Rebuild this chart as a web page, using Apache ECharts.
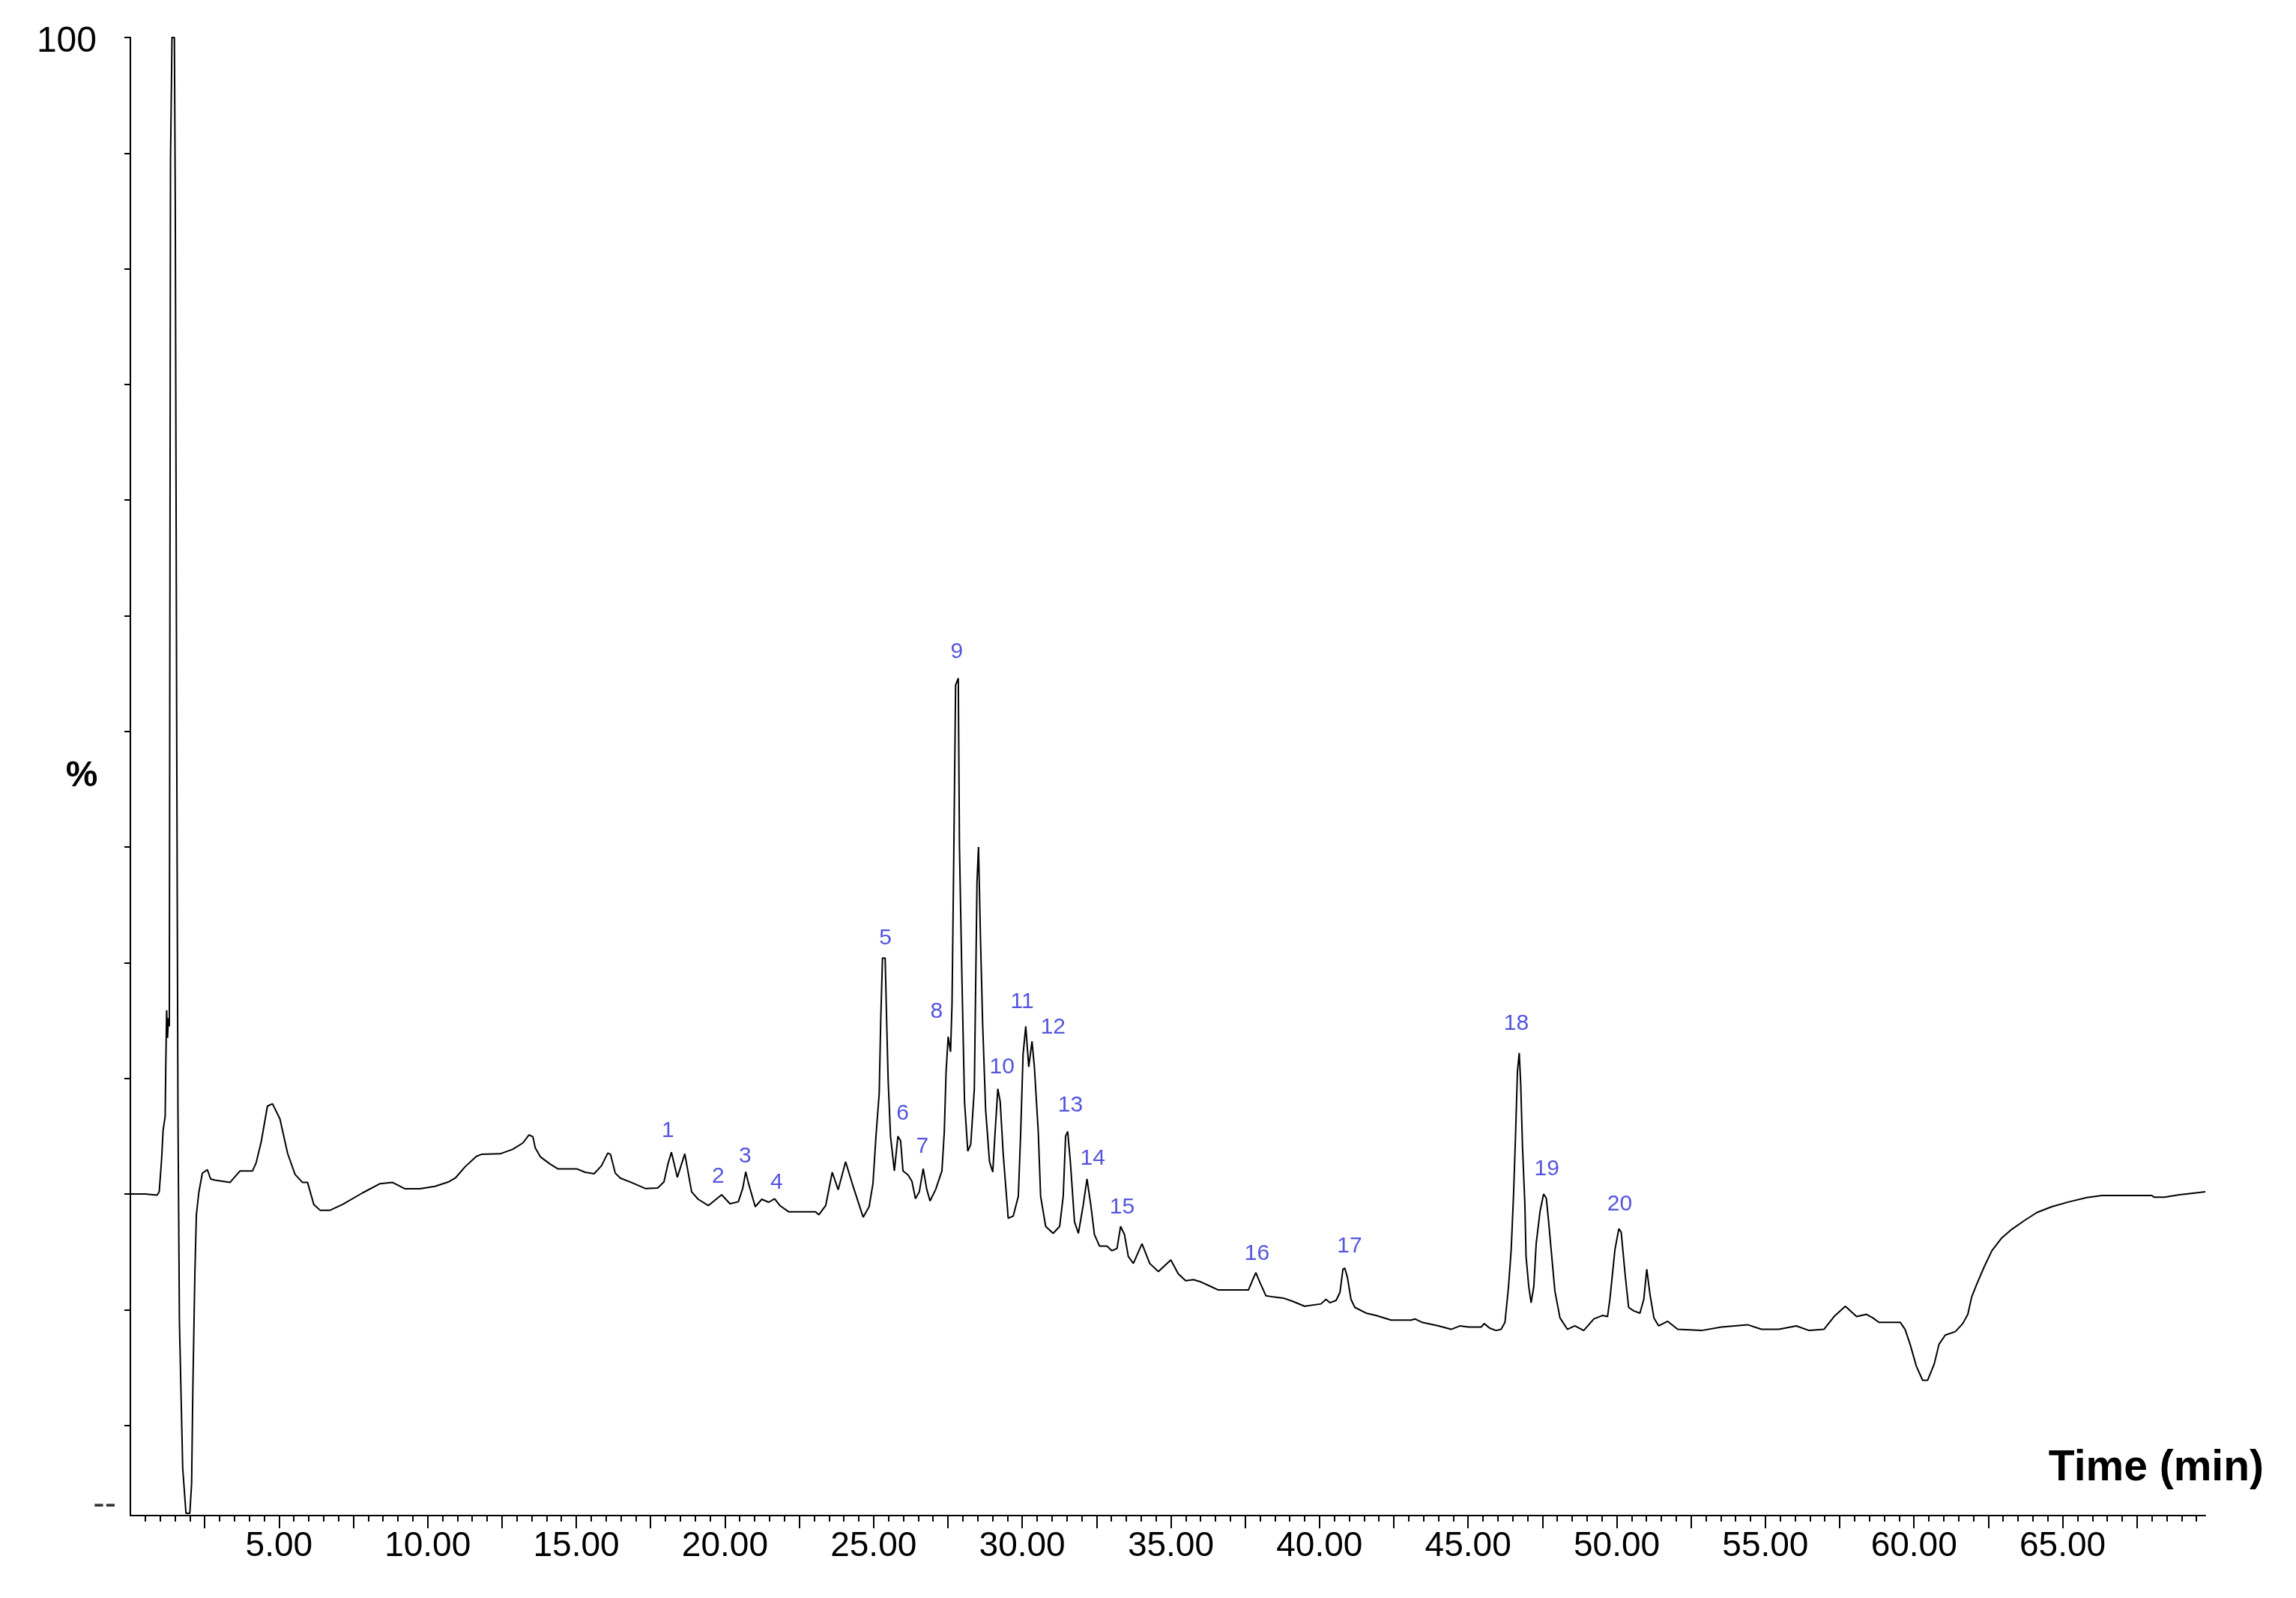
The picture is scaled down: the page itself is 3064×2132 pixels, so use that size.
<!DOCTYPE html>
<html>
<head>
<meta charset="utf-8">
<script src="https://cdn.jsdelivr.net/npm/echarts@6/dist/echarts.min.js"></script>
<style>
html,body{margin:0;padding:0;background:#fff;}
#chart{width:3064px;height:2132px;}
</style>
</head>
<body>
<div id="chart"></div>
<script>
// Retention time (min) of each point
const times = [
0.00,0.50,0.90,0.97,1.05,1.10,1.17,1.19,1.22,1.25,1.28,1.31,1.35,1.40,1.48,1.51,1.56,1.60,1.65,1.76,
1.87,2.00,2.06,2.10,2.17,2.22,2.30,2.42,2.59,2.70,2.85,3.35,3.69,4.11,4.23,4.40,4.61,4.78,5.03,5.29,
5.54,5.79,5.96,6.17,6.38,6.72,7.14,7.81,8.40,8.82,9.24,9.74,10.25,10.71,10.93,11.26,11.64,11.81,12.44,12.86,
13.20,13.41,13.54,13.62,13.79,14.13,14.38,15.01,15.30,15.60,15.85,16.06,16.15,16.31,16.48,16.90,17.32,17.74,17.95,18.08,
18.20,18.40,18.65,18.88,19.10,19.44,19.89,20.17,20.45,20.60,20.70,20.79,21.02,21.24,21.47,21.67,21.85,22.14,23.05,23.16,
23.39,23.61,23.81,24.06,24.29,24.65,24.85,24.98,25.08,25.19,25.24,25.30,25.39,25.44,25.49,25.57,25.70,25.82,25.91,25.99,
26.16,26.29,26.41,26.54,26.67,26.79,26.90,27.09,27.30,27.38,27.44,27.51,27.59,27.64,27.70,27.76,27.85,27.89,27.97,28.06,
28.17,28.27,28.39,28.48,28.53,28.60,28.67,28.77,28.90,29.01,29.09,29.18,29.26,29.36,29.53,29.70,29.87,29.95,30.03,30.12,
30.22,30.33,30.41,30.54,30.62,30.79,31.04,31.26,31.38,31.46,31.53,31.62,31.76,31.89,32.05,32.18,32.31,32.43,32.60,32.85,
33.02,33.19,33.31,33.44,33.57,33.74,34.03,34.29,34.58,35.00,35.25,35.50,35.76,36.01,36.35,36.60,37.61,37.74,37.86,37.99,
38.20,38.45,38.79,39.12,39.50,40.05,40.22,40.35,40.56,40.69,40.79,40.85,40.94,41.06,41.19,41.57,41.90,42.41,43.08,43.21,
43.46,44.01,44.43,44.73,45.02,45.44,45.54,45.73,45.94,46.11,46.24,46.36,46.45,46.53,46.60,46.66,46.72,46.77,46.83,46.91,
46.95,47.04,47.12,47.21,47.29,47.42,47.54,47.63,47.71,47.80,47.92,48.09,48.34,48.59,48.89,49.23,49.52,49.69,49.77,49.94,
50.07,50.15,50.28,50.40,50.57,50.78,50.91,51.01,51.12,51.25,51.41,51.71,52.05,52.85,53.52,54.40,54.87,55.45,56.04,56.47,
56.97,57.31,57.69,58.07,58.40,58.61,58.82,59.54,59.70,59.87,60.08,60.29,60.46,60.68,60.84,61.05,61.39,61.64,61.81,61.94,
62.11,62.36,62.62,62.95,63.29,63.71,64.13,64.63,65.22,65.81,66.32,68.00,68.08,68.42,68.93,69.43,69.80
];
// Relative intensity (%) at each time above
const intensities = [
0.0,0.0,-0.1,0.2,3.0,5.5,6.7,11.0,15.9,13.5,15.2,14.5,89.4,100,100,85.9,38.4,7.3,-11.1,-23.7,
-27.6,-27.6,-25.0,-17.0,-6.8,-1.8,0.1,1.8,2.1,1.3,1.2,1.0,2.0,2.0,2.7,4.5,7.6,7.8,6.5,3.5,
1.7,1.0,1.0,-0.9,-1.4,-1.4,-0.9,0.1,0.9,1.0,0.45,0.45,0.67,1.06,1.38,2.36,3.26,3.43,3.48,3.87,
4.41,5.12,4.95,3.98,3.22,2.57,2.18,2.18,1.88,1.75,2.46,3.54,3.43,1.81,1.38,0.95,0.48,0.52,1.06,2.57,
3.61,1.45,3.48,0.19,-0.45,-1.0,-0.06,-0.84,-0.67,0.5,1.92,0.95,-1.1,-0.45,-0.71,-0.41,-1.0,-1.53,-1.53,-1.79,
-1.0,1.88,0.37,2.79,0.84,-2.0,-1.1,0.9,4.95,8.7,14.85,20.4,20.4,15.0,9.9,5.0,2.0,5.0,4.6,2.0,
1.65,1.1,-0.4,0.2,2.2,0.4,-0.6,0.4,2.0,5.4,10.6,13.6,12.3,16.5,29.6,44.0,44.6,30.0,19.0,8.0,
3.7,4.3,9.1,27.0,30.0,21.8,14.7,7.3,2.8,1.9,5.4,9.1,8.0,3.5,-2.1,-1.9,-0.2,5.4,12.1,14.5,
11.0,13.2,11.0,5.4,-0.2,-2.8,-3.4,-2.8,-0.2,5.0,5.4,2.8,-2.4,-3.4,-1.0,1.3,-1.0,-3.5,-4.5,-4.5,
-4.9,-4.7,-2.8,-3.5,-5.4,-6.0,-4.3,-6.0,-6.7,-5.7,-6.9,-7.5,-7.4,-7.6,-8.0,-8.3,-8.3,-7.5,-6.8,-7.6,
-8.8,-8.9,-9.0,-9.3,-9.7,-9.5,-9.1,-9.4,-9.2,-8.5,-6.5,-6.4,-7.2,-9.1,-9.8,-10.3,-10.5,-10.9,-10.9,-10.8,
-11.1,-11.4,-11.7,-11.4,-11.5,-11.5,-11.2,-11.6,-11.8,-11.7,-11.1,-8.0,-4.8,0.0,5.4,10.6,12.2,9.5,4.1,-0.9,
-5.4,-8.0,-9.4,-8.0,-4.3,-1.5,0.0,-0.35,-2.4,-5.0,-8.4,-10.7,-11.7,-11.4,-11.8,-10.8,-10.5,-10.6,-9.1,-4.8,
-3.0,-3.3,-6.9,-9.8,-10.1,-10.3,-9.1,-6.5,-8.7,-10.7,-11.4,-11.0,-11.7,-11.8,-11.5,-11.3,-11.7,-11.7,-11.4,-11.8,
-11.7,-10.6,-9.7,-10.6,-10.4,-10.7,-11.1,-11.1,-11.7,-13.0,-14.9,-16.1,-16.1,-14.7,-13.0,-12.2,-11.9,-11.2,-10.4,-8.9,
-7.8,-6.3,-4.9,-3.8,-3.05,-2.3,-1.6,-1.1,-0.67,-0.3,-0.13,-0.13,-0.28,-0.28,-0.06,0.09,0.2
];
// Peak annotations: number, and where its label sits (time, level)
const peakNames  = ['1','2','3','4','5','6','7','8','9','10','11','12','13','14','15','16','17','18','19','20'];
const peakTimes  = [18.08,19.77,20.68,21.74,25.40,25.98,26.64,27.12,27.80,29.32,30.00,31.04,31.62,32.37,33.36,37.90,41.01,46.62,47.65,50.10];
const peakLevels = [5.44,1.49,3.24,0.97,22.1,6.93,4.08,15.8,46.9,11.0,16.6,14.4,7.65,3.05,-1.17,-5.18,-4.54,14.7,2.14,-0.91];
// Axis tick labels
const xTickLabels = [5,10,15,20,25,30,35,40,45,50,55,60,65];
const yTickLabels = [100];
const yBottomLabel = '--';

const X_MIN = 0, X_MAX = 69.8, Y_MIN = -27.8, Y_MAX = 100;

const majorTicks = [];
for (let v = 2.5; v < X_MAX; v += 2.5) majorTicks.push(+v.toFixed(2));
const minorTicks = [];
for (let v = 0.5; v < X_MAX; v += 0.5) { const r = +v.toFixed(2); if (Math.abs(r / 2.5 - Math.round(r / 2.5)) > 1e-6) minorTicks.push(r); }
const yTicks = [];
for (let v = -20; v <= 100; v += 10) yTicks.push(v);

const FONT = "'Liberation Sans', Arial, sans-serif";
const trace = times.map((t, i) => [t, intensities[i]]);
const peaks = peakNames.map((n, i) => ({ name: n, value: [peakTimes[i], peakLevels[i]] }));

const chart = echarts.init(document.getElementById('chart'), null, { renderer: 'canvas' });
chart.setOption({
  animation: false,
  backgroundColor: '#ffffff',
  grid: { left: 174, right: 121, top: 50, bottom: 110, containLabel: false },
  xAxis: [{
    type: 'value', min: X_MIN, max: X_MAX,
    name: 'Time (min)', nameLocation: 'end', nameGap: 78, nameMoveOverlap: false,
    nameTextStyle: { fontFamily: FONT, fontSize: 57, fontWeight: 'bold', color: '#000', align: 'right', verticalAlign: 'bottom', padding: [0, 0, 34, 0] },
    axisLine: { show: true, onZero: false, lineStyle: { color: '#000', width: 2 } },
    axisTick: { show: true, length: 17, lineStyle: { color: '#000', width: 2 }, customValues: majorTicks },
    axisLabel: { show: true, customValues: xTickLabels, formatter: v => v.toFixed(2), fontFamily: FONT, fontSize: 46, color: '#000', margin: 18 },
    splitLine: { show: false }
  }, {
    type: 'value', min: X_MIN, max: X_MAX, position: 'bottom',
    axisLine: { show: false, onZero: false },
    axisTick: { show: true, length: 8, lineStyle: { color: '#000', width: 2 }, customValues: minorTicks },
    axisLabel: { show: false },
    splitLine: { show: false }
  }],
  yAxis: {
    type: 'value', min: Y_MIN, max: Y_MAX,
    name: '%', nameLocation: 'middle', nameRotate: 0, nameGap: 65, nameMoveOverlap: false,
    nameTextStyle: { fontFamily: FONT, fontSize: 48, fontWeight: 'bold', color: '#000', align: 'center', verticalAlign: 'middle' },
    axisLine: { show: true, onZero: false, lineStyle: { color: '#000', width: 2 } },
    axisTick: { show: true, length: 8, lineStyle: { color: '#000', width: 2 }, customValues: yTicks },
    axisLabel: {
      show: true, margin: 19, customValues: yTickLabels.concat([-26.9]),
      formatter: v => (v === 100 ? '{a|' + v + '}' : '{b|' + yBottomLabel + '}'),
      rich: {
        a: { fontFamily: FONT, fontSize: 48, color: '#000', padding: [12, 26, 0, 0] },
        b: { fontFamily: FONT, fontSize: 46, color: '#333' }
      }
    },
    splitLine: { show: false }
  },
  series: [{
    type: 'line', xAxisIndex: 0, data: trace, showSymbol: false, symbol: 'none', smooth: false,
    lineStyle: { color: '#000', width: 2 }, silent: true
  }, {
    type: 'scatter', xAxisIndex: 0, data: peaks, symbolSize: 1,
    itemStyle: { color: 'rgba(0,0,0,0)' },
    label: { show: true, position: 'inside', formatter: '{b}', fontFamily: FONT, fontSize: 30, color: '#2a2ad6' },
    silent: true
  }]
});
</script>
</body>
</html>
